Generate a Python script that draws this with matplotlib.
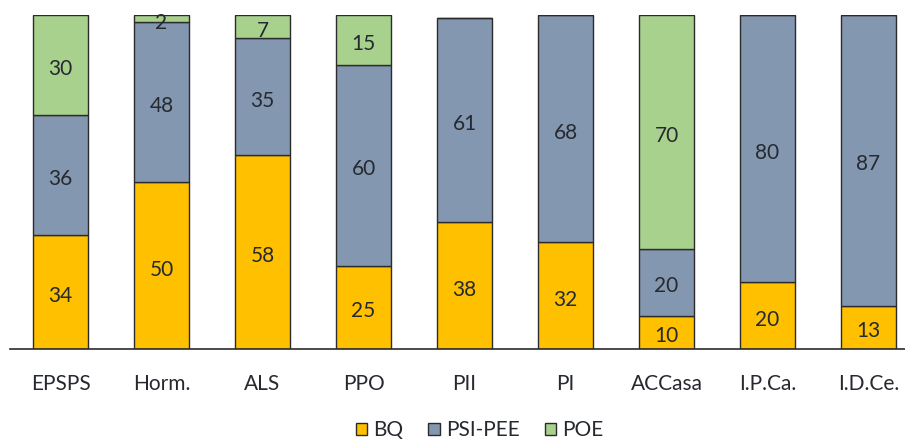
import matplotlib
matplotlib.use("Agg")
import matplotlib.pyplot as plt
import numpy as np

categories = ["EPSPS", "Horm.", "ALS", "PPO", "PII", "PI", "ACCasa", "I.P.Ca.", "I.D.Ce."]
bq = [34, 50, 58, 25, 38, 32, 10, 20, 13]
psi_pee = [36, 48, 35, 60, 61, 68, 20, 80, 87]
poe = [30, 2, 7, 15, 0, 0, 70, 0, 0]

series_names = ["BQ", "PSI-PEE", "POE"]
colors = ["#FFC000", "#8497B0", "#A9D18E"]
text_color = "#262a30"

plt.rcParams["font.family"] = ["Lato", "DejaVu Sans"]

fig = plt.figure(figsize=(9.05, 4.45), dpi=100)
ax = fig.add_axes([10 / 905, (445 - 349) / 445, 1 - 10 / 905, (349 - 15) / 445])

x = np.arange(len(categories))
bottom = np.zeros(len(categories))
handles = []
for name, vals, col in zip(series_names, [bq, psi_pee, poe], colors):
    vals = np.array(vals, dtype=float)
    bars = ax.bar(x, vals, width=0.545, bottom=bottom, color=col,
                  edgecolor="#2b2b2b", linewidth=1.0, label=name)
    handles.append(bars)
    for xi, b, v in zip(x, bottom, vals):
        if v > 0:
            ax.annotate(f"{int(v)}", (xi, b + v / 2), xytext=(0, -3),
                        textcoords="offset points", ha="center", va="center",
                        fontsize=15, color=text_color)
    bottom += vals

ax.set_xlim(-0.5, (905 - 10) / 101 - 0.5)
ax.set_ylim(0, 100)
ax.set_yticks([])
ax.set_xticks(x)
ax.set_xticklabels(categories, fontsize=15, color=text_color)
ax.tick_params(axis="x", length=0, pad=18)
for side in ["top", "right", "left"]:
    ax.spines[side].set_visible(False)
ax.spines["bottom"].set_color("#2b2b2b")
ax.spines["bottom"].set_linewidth(1.2)

fig.legend(handles=handles, labels=series_names, loc="lower center",
           bbox_to_anchor=(0.53, -0.032), ncol=3, frameon=False,
           fontsize=15, handlelength=0.55, handleheight=0.55,
           handletextpad=0.3, columnspacing=1.2, labelcolor=text_color)

fig.savefig("out.png", dpi=100)
